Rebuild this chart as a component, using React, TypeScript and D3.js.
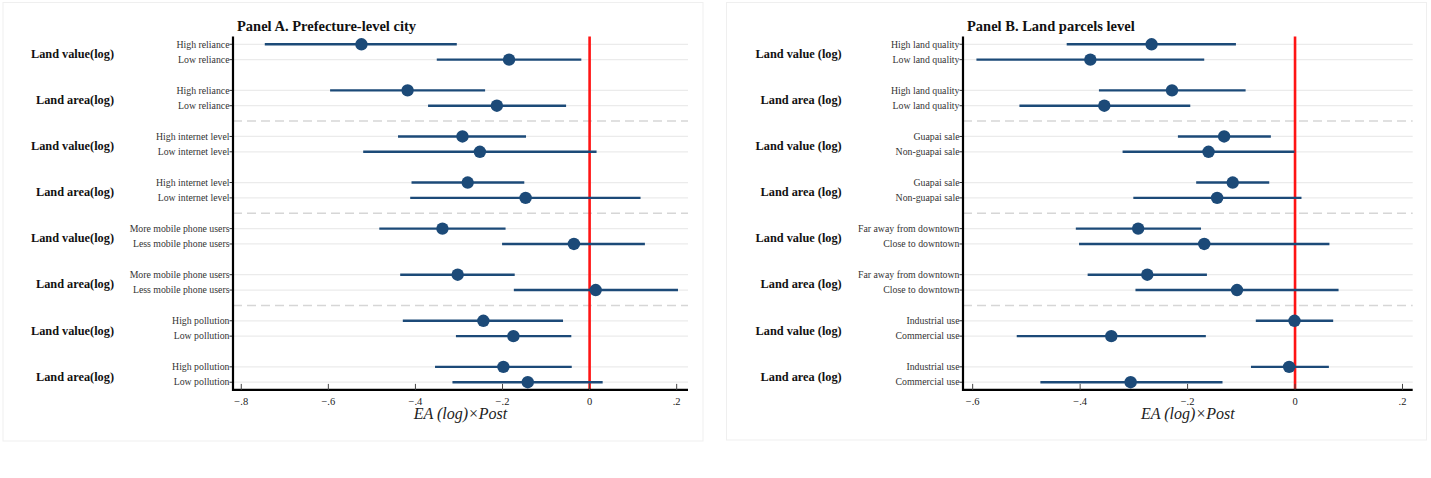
import * as d3 from "d3";
import React from "react";

// Panel A — prefecture-level city subsamples
const cityGroups = [
  "Land value(log)", "Land area(log)",
  "Land value(log)", "Land area(log)",
  "Land value(log)", "Land area(log)",
  "Land value(log)", "Land area(log)",
];
const cityRows = [
  "High reliance", "Low reliance",
  "High reliance", "Low reliance",
  "High internet level", "Low internet level",
  "High internet level", "Low internet level",
  "More mobile phone users", "Less mobile phone users",
  "More mobile phone users", "Less mobile phone users",
  "High pollution", "Low pollution",
  "High pollution", "Low pollution",
];
const cityCoef = [-0.524, -0.185, -0.418, -0.213, -0.292, -0.252, -0.28, -0.147, -0.338, -0.036, -0.303, 0.014, -0.244, -0.175, -0.198, -0.142];
const cityLow = [-0.746, -0.351, -0.596, -0.371, -0.44, -0.52, -0.409, -0.412, -0.483, -0.201, -0.435, -0.174, -0.429, -0.307, -0.355, -0.315];
const cityHigh = [-0.305, -0.019, -0.24, -0.054, -0.146, 0.016, -0.15, 0.117, -0.193, 0.127, -0.172, 0.203, -0.061, -0.042, -0.041, 0.03];
const cityTicks = [-0.8, -0.6, -0.4, -0.2, 0, 0.2];

// Panel B — land parcel subsamples
const parcelGroups = [
  "Land value (log)", "Land area (log)",
  "Land value (log)", "Land area (log)",
  "Land value (log)", "Land area (log)",
  "Land value (log)", "Land area (log)",
];
const parcelRows = [
  "High land quality", "Low land quality",
  "High land quality", "Low land quality",
  "Guapai sale", "Non-guapai sale",
  "Guapai sale", "Non-guapai sale",
  "Far away from downtown", "Close to downtown",
  "Far away from downtown", "Close to downtown",
  "Industrial use", "Commercial use",
  "Industrial use", "Commercial use",
];
const parcelCoef = [-0.267, -0.381, -0.229, -0.355, -0.132, -0.161, -0.116, -0.145, -0.292, -0.169, -0.275, -0.108, -0.001, -0.342, -0.011, -0.306];
const parcelLow = [-0.425, -0.593, -0.365, -0.513, -0.218, -0.321, -0.184, -0.301, -0.408, -0.402, -0.386, -0.297, -0.073, -0.518, -0.082, -0.474];
const parcelHigh = [-0.11, -0.169, -0.092, -0.195, -0.045, -0.001, -0.048, 0.012, -0.175, 0.064, -0.164, 0.081, 0.071, -0.166, 0.063, -0.135];
const parcelTicks = [-0.6, -0.4, -0.2, 0, 0.2];

const SERIF = "'Liberation Serif', 'Times New Roman', serif";
const BLUE = "#1c4a78";

const fmtTick = (v: number) => (v === 0 ? "0" : d3.format(".1f")(v).replace("0.", "."));

type PanelProps = {
  title: string;
  groups: string[];
  rows: string[];
  coef: number[];
  low: number[];
  high: number[];
  ticks: number[];
  domain: [number, number];
  box: [number, number, number, number];
  axisLeft: number;
  axisRight: number;
  groupRight: number;
};

function Panel({ title, groups, rows, coef, low, high, ticks, domain, box, axisLeft, axisRight, groupRight }: PanelProps) {
  // 4 blocks, each: two pairs of rows with a one-row gap, then a separator row
  const pos = rows.map((_, i) => {
    const block = Math.floor(i / 4);
    const inBlock = i % 4;
    return block * 6 + (inBlock < 2 ? inBlock : inBlock + 1);
  });
  const seps = [5, 11, 17];

  const x = d3.scaleLinear().domain(domain).range([axisLeft, axisRight]);
  const y = d3.scaleLinear().domain([-0.5, 22.5]).range([36.6, 389.9]);
  const yTop = y(-0.5);
  const yBot = y(22.5);

  return (
    <g>
      <rect x={box[0]} y={box[1]} width={box[2]} height={box[3]} fill="#fff" stroke="#efefef" strokeWidth={1} />
      <text x={axisLeft + 4} y={31} fontFamily={SERIF} fontWeight="bold" fontSize={14.5} fill="#111">
        {title}
      </text>

      {/* row grid */}
      {pos.map((p, i) => (
        <line key={"g" + i} x1={axisLeft} x2={axisRight} y1={y(p)} y2={y(p)} stroke="#ebebeb" strokeWidth={1.3} />
      ))}
      {seps.map((s) => (
        <line key={"s" + s} x1={axisLeft} x2={axisRight} y1={y(s)} y2={y(s)} stroke="#d6d6d6" strokeWidth={1.5} strokeDasharray="9,5" />
      ))}

      {/* zero reference */}
      <line x1={x(0)} x2={x(0)} y1={yTop} y2={yBot} stroke="#ff1414" strokeWidth={2.6} />

      {/* confidence intervals and point estimates */}
      {pos.map((p, i) => (
        <g key={"c" + i}>
          <line x1={x(low[i])} x2={x(high[i])} y1={y(p)} y2={y(p)} stroke={BLUE} strokeWidth={2.4} />
          <circle cx={x(coef[i])} cy={y(p)} r={6.2} fill={BLUE} />
        </g>
      ))}

      {/* y axis */}
      {pos.map((p, i) => (
        <g key={"l" + i}>
          <line x1={axisLeft - 3.5} x2={axisLeft} y1={y(p)} y2={y(p)} stroke="#333" strokeWidth={1} />
          <text x={axisLeft - 3.5} y={y(p)} dy="0.33em" textAnchor="end" fontFamily={SERIF} fontSize={9.8} fill="#333">
            {rows[i]}
          </text>
        </g>
      ))}
      {groups.map((g, j) => {
        const mid = (y(pos[j * 2]) + y(pos[j * 2 + 1])) / 2 + 2;
        return (
          <text key={"gr" + j} x={groupRight} y={mid} dy="0.33em" textAnchor="end" fontFamily={SERIF} fontWeight="bold" fontSize={12.3} fill="#111">
            {g}
          </text>
        );
      })}
      <line x1={axisLeft} x2={axisLeft} y1={yTop} y2={yBot + 1} stroke="#000" strokeWidth={2.2} />

      {/* x axis */}
      <line x1={axisLeft - 1} x2={axisRight} y1={yBot} y2={yBot} stroke="#000" strokeWidth={2.2} />
      {ticks.map((t) => (
        <g key={"t" + t}>
          <line x1={x(t)} x2={x(t)} y1={yBot - 6} y2={yBot} stroke="#444" strokeWidth={1} />
          <text x={x(t)} y={yBot + 15} textAnchor="middle" fontFamily={SERIF} fontSize={10.5} fill="#222">
            {fmtTick(t)}
          </text>
        </g>
      ))}
      <text x={(axisLeft + axisRight) / 2} y={yBot + 29} textAnchor="middle" fontFamily={SERIF} fontStyle="italic" fontSize={16} fill="#222">
        EA (log)×Post
      </text>
    </g>
  );
}

export default function App() {
  return (
    <svg width={1431} height={478} style={{ position: "absolute", left: 0, top: 0, background: "#fff" }}>
      <rect width={1431} height={478} fill="#fff" />
      <Panel
        title="Panel A. Prefecture-level city"
        groups={cityGroups}
        rows={cityRows}
        coef={cityCoef}
        low={cityLow}
        high={cityHigh}
        ticks={cityTicks}
        domain={[-0.819, 0.226]}
        box={[3, 2.5, 700, 438.5]}
        axisLeft={233}
        axisRight={688}
        groupRight={114}
      />
      <Panel
        title="Panel B. Land parcels level"
        groups={parcelGroups}
        rows={parcelRows}
        coef={parcelCoef}
        low={parcelLow}
        high={parcelHigh}
        ticks={parcelTicks}
        domain={[-0.618, 0.219]}
        box={[726.5, 2.5, 700, 437.5]}
        axisLeft={963}
        axisRight={1412.7}
        groupRight={841.7}
      />
    </svg>
  );
}
